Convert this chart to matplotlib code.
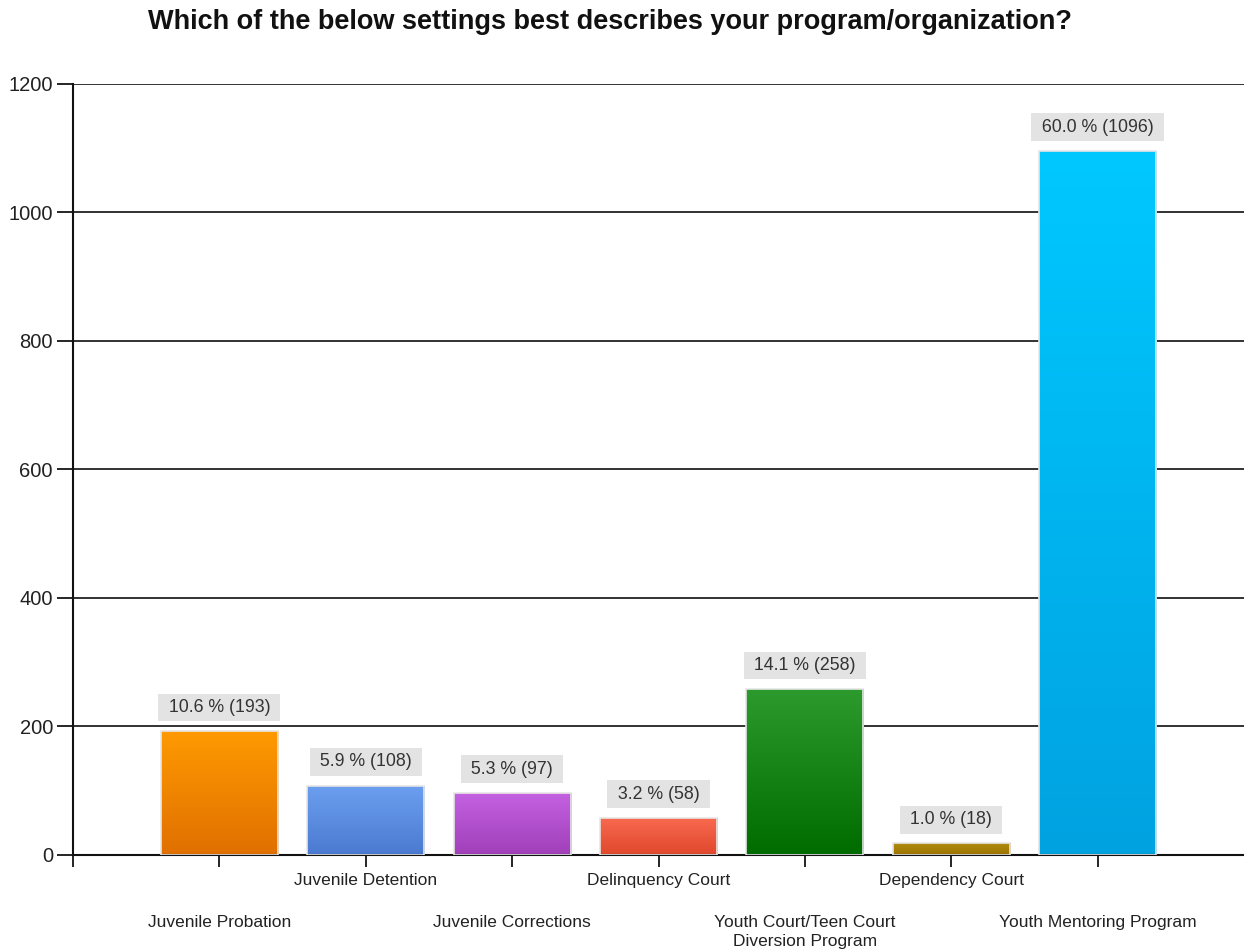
import numpy as np
import matplotlib.pyplot as plt
from matplotlib.colors import LinearSegmentedColormap

plt.rcParams['font.family'] = ['Liberation Sans', 'DejaVu Sans']

title = "Which of the below settings best describes your program/organization?"
categories = ["Juvenile Probation", "Juvenile Detention", "Juvenile Corrections",
              "Delinquency Court", "Youth Court/Teen Court\nDiversion Program",
              "Dependency Court", "Youth Mentoring Program"]
counts = [193, 108, 97, 58, 258, 18, 1096]
percents = [10.6, 5.9, 5.3, 3.2, 14.1, 1.0, 60.0]
# (top colour, bottom colour) for each bar's vertical gradient
bar_colors = [("#ff9a00", "#e07000"), ("#6c9ff0", "#4a7ad0"), ("#c462e2", "#a03fb8"),
              ("#f86a50", "#e0482c"), ("#2c9a2c", "#006c00"), ("#b08a10", "#9c7400"),
              ("#00c8ff", "#00a2e0")]

fig = plt.figure(figsize=(12.44, 9.52), dpi=100)
ax = fig.add_axes([0.0587, 0.1019, 0.9413, 0.8099])

x = np.arange(1, len(categories) + 1)
bars = ax.bar(x, counts, width=0.8, color="none", edgecolor="#e6e6e6", linewidth=1.2, zorder=3)

grad = np.linspace(0, 1, 256).reshape(-1, 1)
for b, (top, bottom) in zip(bars, bar_colors):
    cmap = LinearSegmentedColormap.from_list("g", [bottom, top])
    bx, by = b.get_x(), b.get_y()
    w, h = b.get_width(), b.get_height()
    im = ax.imshow(grad, cmap=cmap, origin="lower", aspect="auto",
                   extent=[bx, bx + w, by, by + h], zorder=2)
    im.set_clip_path(b)

for xi, c, p in zip(x, counts, percents):
    ax.annotate(f" {p:.1f} % ({c}) ", (xi, c), xytext=(0, 17), textcoords="offset points",
                ha="center", va="center", fontsize=12.8, color="#333333",
                bbox=dict(boxstyle="square,pad=0.3", fc="#e3e3e3", ec="none"), zorder=4)

ax.set_xlim(0, 8)
ax.set_ylim(0, 1200)
ax.set_yticks(range(0, 1201, 200))
ax.set_xticks(np.arange(0, 8))
ax.set_xticklabels([""] + categories)
ax.yaxis.grid(True, color="#222222", linewidth=1.3, zorder=1)
ax.set_axisbelow(True)

for s in ["top", "right"]:
    ax.spines[s].set_visible(False)
for s in ["left", "bottom"]:
    ax.spines[s].set_linewidth(1.5)
    ax.spines[s].set_color("#111111")

ax.tick_params(axis="y", length=11.5, width=1.2, pad=3, labelsize=14.5, labelcolor="#222222")
ax.tick_params(axis="x", length=8.5, width=1.2, labelsize=12.5, labelcolor="#222222")
for i, t in enumerate(ax.xaxis.get_major_ticks()):
    t.set_pad(4.5 if i % 2 == 0 else 34.5)
    t.label1.set_linespacing(1.35)

fig.text(0.49, 0.977, title, ha="center", va="center",
         fontsize=19.5, fontweight="bold", color="#111111")

fig.savefig("out.png", dpi=100, facecolor="white")
